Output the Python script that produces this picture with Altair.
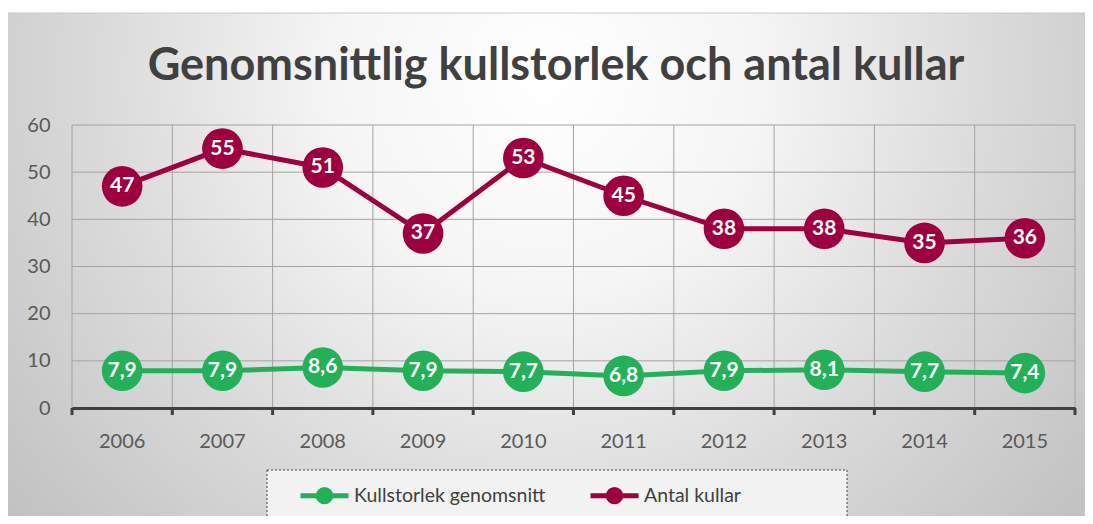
import altair as alt
import pandas as pd

years = ["2006", "2007", "2008", "2009", "2010", "2011", "2012", "2013", "2014", "2015"]
kullstorlek = [7.9, 7.9, 8.6, 7.9, 7.7, 6.8, 7.9, 8.1, 7.7, 7.4]
antal = [47, 55, 51, 37, 53, 45, 38, 38, 35, 36]
series_names = ["Kullstorlek genomsnitt", "Antal kullar"]
series_colors = ["#23b158", "#9e003f"]
title_text = "Genomsnittlig kullstorlek och antal kullar"
y_ticks = [0, 10, 20, 30, 40, 50, 60]

rows = []
for y, v in zip(years, kullstorlek):
    rows.append({"year": y, "value": v, "series": series_names[0],
                 "label": str(v).replace(".", ",")})
for y, v in zip(years, antal):
    rows.append({"year": y, "value": v, "series": series_names[1],
                 "label": str(v)})
df = pd.DataFrame(rows)

W, H = 1003, 283
FONT = "Lato"
GRID = "#a3a3a3"
AXIS = "#404040"

x_scale = alt.Scale(type="band", paddingInner=0, paddingOuter=0)
x_enc = alt.X("year:N", sort=years, bandPosition=0.5, scale=x_scale,
              axis=alt.Axis(title=None, grid=False, zindex=1, bandPosition=0.5,
                            domainColor=AXIS, domainWidth=3,
                            ticks=False, tickSize=0,
                            labelFont=FONT, labelFontSize=20, labelColor="#595959",
                            labelAlign="center", labelBaseline="top",
                            labelPadding=23, labelAngle=0))
y_enc = alt.Y("value:Q", scale=alt.Scale(domain=[0, 60], nice=False),
              axis=alt.Axis(title=None, values=y_ticks, grid=False, zindex=1,
                            domain=False, ticks=False, tickSize=0,
                            labelFont=FONT, labelFontSize=20, labelColor="#595959",
                            labelPadding=22))
color_scale = alt.Scale(domain=series_names, range=series_colors)

sym_path = ("M-1,0L1,0M0.26,0A0.26,0.26,0,1,1,-0.26,0"
            "A0.26,0.26,0,1,1,0.26,0Z")

legend = alt.Legend(title=None, orient="none", legendX=226, legendY=344,
                    direction="horizontal", symbolType=sym_path, symbolSize=2304,
                    symbolStrokeWidth=5, labelFont=FONT, labelFontSize=19.5,
                    labelColor=AXIS, labelOffset=3, columnPadding=34,
                    labelLimit=400, padding=0, symbolOpacity=1)

bg = alt.Chart(alt.Data(values=[{}])).mark_rect(
    fill={"gradient": "radial", "x1": 0.5, "y1": 0.05, "r1": 0,
          "x2": 0.5, "y2": 0.05, "r2": 0.55,
          "stops": [{"offset": 0, "color": "#ffffff"},
                    {"offset": 0.3, "color": "#f5f5f5"},
                    {"offset": 0.6, "color": "#dcdcdc"},
                    {"offset": 0.9, "color": "#c6c6c6"},
                    {"offset": 1, "color": "#c0c0c0"}]},
    stroke="#c8c8c8", strokeWidth=1
).encode(x=alt.value(-65), x2=alt.value(W + 10), y=alt.value(-112), y2=alt.value(H + 908))

legend_box = alt.Chart(alt.Data(values=[{}])).mark_rect(
    fill="#f2f2f2", stroke="#404040", strokeWidth=1, strokeDash=[2, 2]
).encode(x=alt.value(195), x2=alt.value(775), y=alt.value(345), y2=alt.value(392))

title = alt.Chart(alt.Data(values=[{"t": title_text}])).mark_text(
    font=FONT, fontSize=45, fontWeight="bold", color=AXIS,
    align="center", baseline="alphabetic"
).encode(x=alt.value(484), y=alt.value(-45), text="t:N")

grid_h = alt.Chart(pd.DataFrame({"v": y_ticks})).mark_rule(
    color=GRID, strokeWidth=1
).encode(y=alt.Y("v:Q"), x=alt.value(0), x2=alt.value(W))

year_df = pd.DataFrame({"year": years})
grid_v = alt.Chart(year_df).mark_rule(color=GRID, strokeWidth=1).encode(
    x=alt.X("year:N", sort=years, bandPosition=0), y=alt.value(0), y2=alt.value(H))
grid_end = alt.Chart(alt.Data(values=[{}])).mark_rule(color=GRID, strokeWidth=1).encode(
    x=alt.value(W), y=alt.value(0), y2=alt.value(H))

ticks = alt.Chart(year_df).mark_rule(color=AXIS, strokeWidth=3).encode(
    x=alt.X("year:N", sort=years, bandPosition=0), y=alt.value(H), y2=alt.value(H + 7))
tick_end = alt.Chart(alt.Data(values=[{}])).mark_rule(color=AXIS, strokeWidth=3).encode(
    x=alt.value(W), y=alt.value(H), y2=alt.value(H + 7))

base = alt.Chart(df)
lines = base.mark_line(strokeWidth=5).encode(
    x=x_enc, y=y_enc,
    color=alt.Color("series:N", scale=color_scale, legend=legend),
    detail="series:N")
points = base.mark_circle(size=1650, opacity=1).encode(
    x=alt.X("year:N", sort=years, bandPosition=0.5),
    y="value:Q",
    color=alt.Color("series:N", scale=color_scale, legend=legend))
labels = base.mark_text(font=FONT, fontSize=21, fontWeight="bold", color="white",
                        align="center", baseline="middle").encode(
    x=alt.X("year:N", sort=years, bandPosition=0.5),
    y="value:Q", text="label:N")

chart = alt.layer(bg, legend_box, title, grid_h, grid_v, grid_end, ticks, tick_end,
                  lines, points, labels).properties(
    width=W, height=H,
    autosize=alt.AutoSizeParams(type="none"),
    padding={"left": 64, "top": 117, "right": 10, "bottom": 108},
).configure_view(stroke="transparent")

chart.save("out.html", embed_options={"renderer": "svg", "actions": False})
